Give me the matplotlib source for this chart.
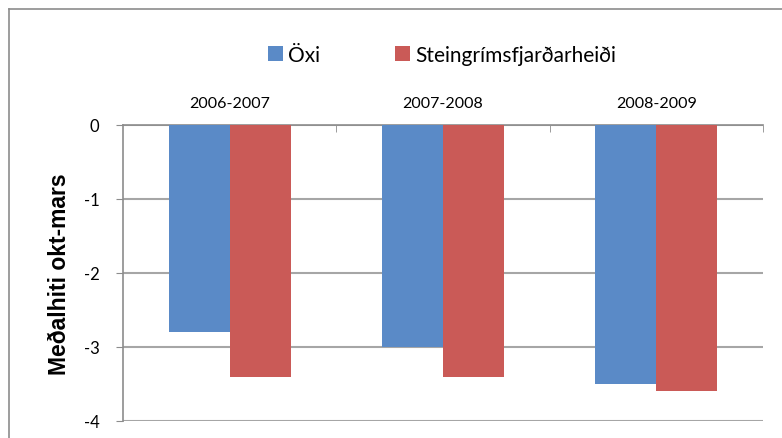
import numpy as np
import matplotlib
matplotlib.use("Agg")
import matplotlib.pyplot as plt
from matplotlib.lines import Line2D

plt.rcParams['font.family'] = ['Lato', 'DejaVu Sans']

seasons = ['2006-2007', '2007-2008', '2008-2009']
oxi = [-2.8, -3.0, -3.5]
steing = [-3.4, -3.4, -3.6]
series_names = ['Öxi', 'Steingrímsfjarðarheiði']
yticks = [0, -1, -2, -3, -4]

W, H = 782, 439
fig = plt.figure(figsize=(W / 100, H / 100), dpi=100)

# outer frame (top + left only visible)
fig.add_artist(Line2D([9 / W, 1], [1 - 10 / H, 1 - 10 / H], color='#8c8c8c', lw=1.2))
fig.add_artist(Line2D([9 / W, 9 / W], [0, 1 - 10 / H], color='#8c8c8c', lw=1.2))

ax = fig.add_axes([123 / W, 1 - 422 / H, (763 - 123) / W, (422 - 126) / H])

x = np.arange(len(seasons))
bw = 1 / 3.5
ax.bar(x - bw / 2, oxi, bw, color='#5A8AC7', label=series_names[0], zorder=3)
ax.bar(x + bw / 2, steing, bw, color='#CA5A57', label=series_names[1], zorder=3)

ax.set_xlim(-0.5, 2.5)
ax.set_ylim(-4, 0)
ax.set_yticks(yticks)
ax.set_yticklabels([str(v) for v in yticks], fontsize=12)
ax.yaxis.grid(True, color='#a6a6a6', lw=1.5, zorder=0)

# category labels on top
ax.xaxis.tick_top()
ax.set_xticks(x)
ax.set_xticklabels(seasons, fontsize=11.5)
ax.tick_params(axis='x', length=0, pad=11)
ax.set_xticks([0.5, 1.5, 2.5], minor=True)
ax.tick_params(axis='x', which='minor', direction='in', length=5, color='#8c8c8c', top=True, bottom=False)
ax.tick_params(axis='y', length=5, color='#8c8c8c', pad=12)

for s in ['right', 'bottom']:
    ax.spines[s].set_visible(False)
for s in ['left', 'top']:
    ax.spines[s].set_color('#8c8c8c')
    ax.spines[s].set_linewidth(1.2)

ax.set_ylabel('Meðalhiti okt-mars', fontsize=16.5, fontweight='bold', labelpad=9,
              family=['Liberation Sans', 'DejaVu Sans'])

fig.legend(loc='center', bbox_to_anchor=(442 / W, 1 - 56 / H), ncol=2, frameon=False,
           fontsize=15, handlelength=0.7, handleheight=0.7, handletextpad=0.25, columnspacing=3.6)

fig.savefig('out.png', dpi=100)
